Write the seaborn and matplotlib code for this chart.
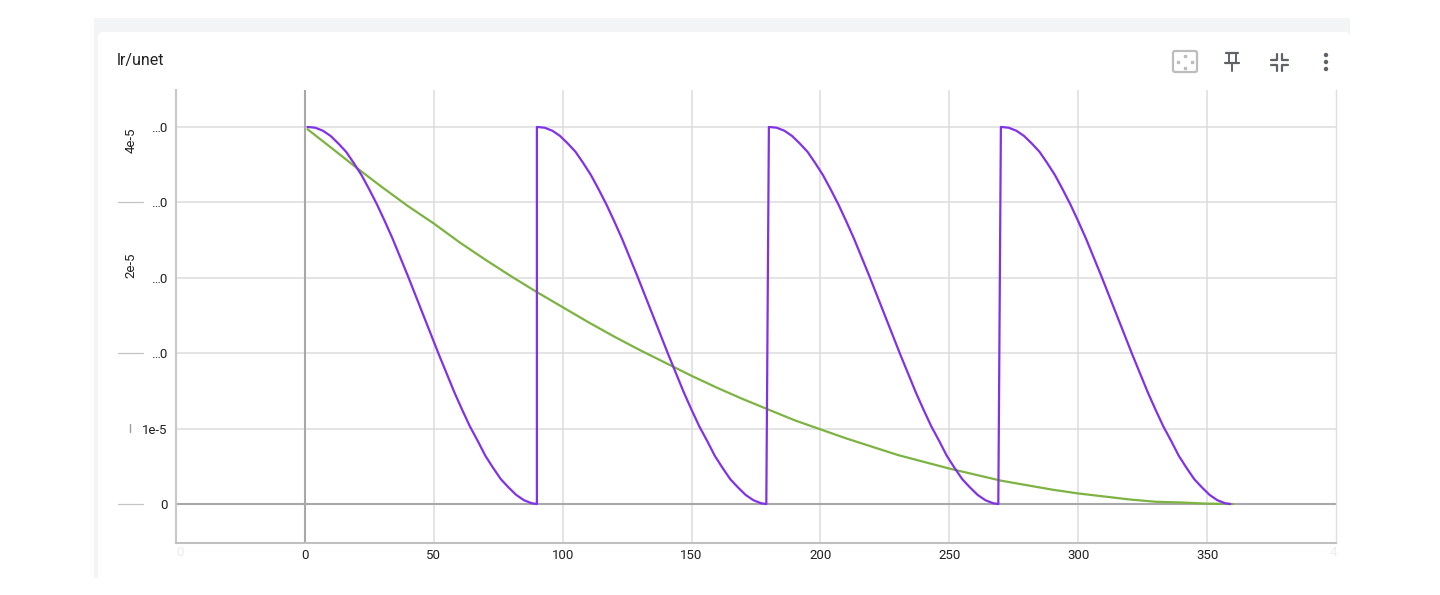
import numpy as np
import pandas as pd
import matplotlib
matplotlib.use("Agg")
import matplotlib.pyplot as plt
from matplotlib.patches import Rectangle, FancyBboxPatch, Circle
import seaborn as sns

# values, lr in units of 1e-5
cycle_offsets = [0, 3, 6, 9, 12, 15, 18, 21, 24, 27, 30, 33, 36, 39, 42, 45,
                 48, 51, 54, 57, 60, 63, 66, 69, 72, 75, 78, 81, 84, 87, 89]
cycle_lr = [5.00, 4.99, 4.95, 4.88, 4.78, 4.67, 4.52, 4.36, 4.17, 3.97, 3.75, 3.52,
            3.27, 3.02, 2.76, 2.50, 2.24, 1.98, 1.73, 1.48, 1.25, 1.03, 0.84, 0.64,
            0.48, 0.33, 0.22, 0.12, 0.05, 0.01, 0.00]
cycle_starts = [1, 90, 180, 270]

poly_steps = [1, 10, 20, 30, 40, 50, 60, 70, 80, 90, 100, 110, 120, 130, 140, 150, 160, 170, 180,
              190, 200, 210, 220, 230, 240, 250, 260, 270, 280, 290, 300, 310, 320, 330, 340, 350, 360]
poly_lr = [4.97, 4.73, 4.46, 4.20, 3.95, 3.72, 3.47, 3.24, 3.02, 2.81, 2.61, 2.41, 2.22, 2.04,
           1.87, 1.70, 1.54, 1.39, 1.25, 1.11, 0.99, 0.87, 0.76, 0.65, 0.56, 0.47, 0.39, 0.31,
           0.25, 0.19, 0.14, 0.10, 0.06, 0.03, 0.02, 0.005, 0.00]

x_ticks = [0, 50, 100, 150, 200, 250, 300, 350]
y_ticks = [0, 1, 2, 3, 4, 5]
y_tick_labels = ["0", "1e-5", "\u20260", "\u20260", "\u20260", "\u20260"]

purple = "#8131e6"
green = "#7cb342"

# build the restart series from the cycle readings
steps, lrs = [], []
for s in cycle_starts:
    steps += [s + o for o in cycle_offsets]
    lrs += cycle_lr
df_cos = pd.DataFrame({"step": steps, "lr": lrs})
df_poly = pd.DataFrame({"step": poly_steps, "lr": poly_lr})

sns.set_style("white")
plt.rcParams["font.family"] = ["Roboto", "DejaVu Sans"]

W, H = 1440, 595
fig = plt.figure(figsize=(W / 100, H / 100), dpi=100)

# background / card layer in pixel coords
bg = fig.add_axes([0, 0, 1, 1], zorder=0)
bg.set_xlim(0, W)
bg.set_ylim(H, 0)
bg.axis("off")
bg.add_patch(Rectangle((94, 18), 1256, 560, color="#f3f4f6", lw=0))
bg.add_patch(FancyBboxPatch((98, 32), 1252, 560, boxstyle="round,pad=0,rounding_size=5",
                            fc="white", ec="none"))
bg.text(117, 61, "lr/unet", fontsize=11.5, color="#212121", va="center", ha="left")

# toolbar icons
ic = "#5f6368"
bg.add_patch(FancyBboxPatch((1173, 51), 24, 21, boxstyle="round,pad=0,rounding_size=2",
                            fc="none", ec="#bdbdbd", lw=1.6))
for (x0, y0) in [(1185, 55.5), (1185, 67.5), (1178, 61.5), (1192, 61.5)]:
    bg.plot([x0], [y0], marker="s", ms=1.5, color="#bdbdbd")
bg.plot([1226, 1238], [53, 53], color=ic, lw=1.6)
bg.plot([1228.5, 1228.5], [53, 63], color=ic, lw=1.4)
bg.plot([1235.5, 1235.5], [53, 63], color=ic, lw=1.4)
bg.plot([1225, 1239], [63, 63], color=ic, lw=1.6)
bg.plot([1232, 1232], [63, 71], color=ic, lw=1.4)
for sx, sy in [(-1, -1), (1, -1), (-1, 1), (1, 1)]:
    cx, cy = 1279 + sx * 2.5, 62 + sy * 2.5
    bg.plot([cx, cx, cx + sx * 6], [cy + sy * 6, cy, cy], color=ic, lw=1.6)
for yy in [55, 62, 69]:
    bg.add_patch(Circle((1326, yy), 2.2, color=ic, lw=0))

# y-axis decorations left of the labels
for yy in [202, 353, 504]:
    bg.plot([118, 143], [yy, yy], color="#c4c4c4", lw=0.9)
bg.plot([130, 130], [424, 432], color="#9e9e9e", lw=1)
bg.text(131, 140, "4e-5", rotation=90, fontsize=9.5, color="#212121", ha="center", va="center")
bg.text(131, 265, "2e-5", rotation=90, fontsize=9.5, color="#212121", ha="center", va="center")
bg.text(180, 553, "0", fontsize=9.5, color="#ececec", ha="center", va="center")
bg.text(1333, 553, "4", fontsize=9.5, color="#ececec", ha="center", va="center")

# main plot
left, right, top, bottom = 176, 1336, 90, 543
ax = fig.add_axes([left / W, 1 - bottom / H, (right - left) / W, (bottom - top) / H], zorder=1)
ax.patch.set_alpha(0)

sns.lineplot(data=df_poly, x="step", y="lr", ax=ax, color=green, lw=1.6,
             estimator=None, sort=False, zorder=3)
sns.lineplot(data=df_cos, x="step", y="lr", ax=ax, color=purple, lw=1.6,
             estimator=None, sort=False, zorder=4)

ax.set_xlim(-50, 400)
ax.set_ylim(-0.517, 5.49)
ax.set_xticks(x_ticks)
ax.set_xticklabels([str(t) for t in x_ticks])
ax.set_yticks(y_ticks)
ax.set_yticklabels(y_tick_labels)
ax.tick_params(axis="both", length=0, labelsize=9.5, labelcolor="#212121")
ax.tick_params(axis="y", pad=6)
ax.tick_params(axis="x", pad=4)
ax.set_xlabel("")
ax.set_ylabel("")
ax.grid(True, color="#dcdcdc", lw=1.1)
ax.axvline(0, color="#a8a8a8", lw=1.5, zorder=2)
ax.axhline(0, color="#a8a8a8", lw=1.5, zorder=2)
ax.spines["top"].set_visible(False)
ax.spines["left"].set_color("#c8c8c8")
ax.spines["left"].set_linewidth(1.5)
ax.spines["bottom"].set_color("#c0c0c0")
ax.spines["bottom"].set_linewidth(1.5)
ax.spines["right"].set_color("#e0e0e0")
ax.spines["right"].set_linewidth(1)

fig.savefig("out.png", dpi=100, facecolor="white")
